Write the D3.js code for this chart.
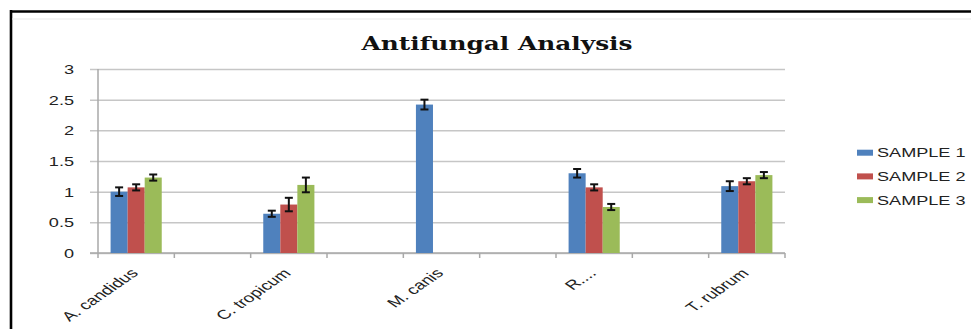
<!DOCTYPE html>
<html>
<head>
<meta charset="utf-8">
<script src="https://cdn.jsdelivr.net/npm/d3@7"></script>
<style>
  html, body { margin: 0; padding: 0; background: #fff; }
  svg { display: block; }
</style>
</head>
<body>
<svg id="chart" width="971" height="329"></svg>
<script>
// ---- data ----
const categories = ["A. candidus", "", "C. tropicum", "", "M. canis", "", "R....", "", "T. rubrum"];
const seriesNames = ["SAMPLE 1", "SAMPLE 2", "SAMPLE 3"];
const sample1 = [1.00, null, 0.64, null, 2.42, null, 1.30, null, 1.09];
const sample2 = [1.07, null, 0.79, null, 0,    null, 1.07, null, 1.17];
const sample3 = [1.23, null, 1.11, null, 0,    null, 0.75, null, 1.27];
const err1 = [0.07, null, 0.05, null, 0.08, null, 0.07, null, 0.08];
const err2 = [0.05, null, 0.11, null, null, null, 0.05, null, 0.05];
const err3 = [0.05, null, 0.12, null, null, null, 0.05, null, 0.05];
const yTicks = [0, 0.5, 1, 1.5, 2, 2.5, 3];
const titleText = "Antifungal Analysis";
const colors = ["#4F81BD", "#C0504D", "#9BBB59"];

const values = [sample1, sample2, sample3];
const errors = [err1, err2, err3];

// ---- layout ----
const svg = d3.select("#chart");
const SX = 1.45; // horizontal stretch of the reference text
const plot = { left: 98, right: 785, top: 69, bottom: 253 };

// frame
svg.append("line").attr("x1", 10).attr("x2", 971).attr("y1", 11.5).attr("y2", 11.5)
  .attr("stroke", "#000").attr("stroke-width", 2.6);
svg.append("line").attr("x1", 11).attr("x2", 11).attr("y1", 10).attr("y2", 329)
  .attr("stroke", "#000").attr("stroke-width", 2.6);
svg.append("line").attr("x1", 12.5).attr("x2", 971).attr("y1", 19).attr("y2", 19)
  .attr("stroke", "#efefef").attr("stroke-width", 1.5);

// title
svg.append("text")
  .attr("x", 497).attr("y", 50)
  .attr("text-anchor", "middle")
  .attr("font-family", "'DejaVu Serif', 'Liberation Serif', serif")
  .attr("font-weight", "bold")
  .attr("font-size", 18.5)
  .attr("textLength", 271)
  .attr("lengthAdjust", "spacingAndGlyphs")
  .attr("fill", "#111")
  .text(titleText);

const x0 = d3.scaleBand().domain(d3.range(categories.length))
  .range([plot.left, plot.right]).paddingInner(0).paddingOuter(0);
const bw = x0.bandwidth();
const x1 = d3.scaleBand().domain(d3.range(seriesNames.length))
  .range([bw * 0.165, bw * 0.835]).padding(0);
const y = d3.scaleLinear().domain([0, 3]).range([plot.bottom, plot.top]);

// gridlines + y axis ticks
const yAxis = d3.axisLeft(y).tickValues(yTicks)
  .tickSize(-(plot.right - plot.left))
  .tickSizeOuter(0)
  .tickFormat(d3.format("~g"))
  .tickPadding(0);
const gy = svg.append("g").attr("transform", `translate(${plot.left},0)`).call(yAxis);
gy.select(".domain").remove();
gy.selectAll(".tick line")
  .attr("x1", -8)
  .attr("stroke", "#c6c6c6").attr("stroke-width", 1.5);
gy.selectAll(".tick text")
  .attr("x", null).attr("dy", null)
  .attr("text-anchor", "end")
  .attr("dominant-baseline", "central")
  .attr("font-family", "'Liberation Sans', Arial, sans-serif")
  .attr("font-size", 12.5)
  .attr("fill", "#222")
  .attr("transform", `translate(${74 - plot.left},0) scale(${SX},1)`);

// y axis line
svg.append("line").attr("x1", plot.left).attr("x2", plot.left)
  .attr("y1", plot.top).attr("y2", plot.bottom)
  .attr("stroke", "#a8a8a8").attr("stroke-width", 1.5);

// x axis
svg.append("line").attr("x1", plot.left - 8).attr("x2", plot.right)
  .attr("y1", plot.bottom).attr("y2", plot.bottom)
  .attr("stroke", "#a8a8a8").attr("stroke-width", 1.5);
const boundaries = d3.range(categories.length + 1);
svg.append("g").selectAll("line").data(boundaries).join("line")
  .attr("x1", d => d < categories.length ? x0(d) : plot.right)
  .attr("x2", d => d < categories.length ? x0(d) : plot.right)
  .attr("y1", plot.bottom).attr("y2", plot.bottom + 5)
  .attr("stroke", "#a8a8a8").attr("stroke-width", 1.5);

// x labels
svg.append("g").selectAll("text").data(categories.map((c, i) => ({ c, i })).filter(d => d.c))
  .join("text")
  .attr("text-anchor", "end")
  .attr("font-family", "'Liberation Sans', Arial, sans-serif")
  .attr("font-size", 13)
  .attr("fill", "#222")
  .attr("transform", d => `translate(${x0(d.i) + bw / 2 + 3},${plot.bottom + 21}) scale(${SX},1) rotate(-45)`)
  .text(d => d.c);

// bars
const barData = [];
values.forEach((arr, s) => arr.forEach((v, i) => {
  if (v !== null) barData.push({ s, i, v, e: errors[s][i] });
}));
svg.append("g").selectAll("rect").data(barData).join("rect")
  .attr("x", d => x0(d.i) + x1(d.s))
  .attr("width", x1.bandwidth())
  .attr("y", d => y(d.v))
  .attr("height", d => plot.bottom - y(d.v))
  .attr("fill", d => colors[d.s]);

// error bars
const eb = svg.append("g").selectAll("g").data(barData.filter(d => d.e !== null && d.e !== undefined && d.v > 0))
  .join("g")
  .attr("stroke", "#111").attr("stroke-width", 2);
eb.append("line")
  .attr("x1", d => x0(d.i) + x1(d.s) + x1.bandwidth() / 2)
  .attr("x2", d => x0(d.i) + x1(d.s) + x1.bandwidth() / 2)
  .attr("y1", d => y(d.v + d.e)).attr("y2", d => y(d.v - d.e));
[1, -1].forEach(sign => {
  eb.append("line")
    .attr("x1", d => x0(d.i) + x1(d.s) + x1.bandwidth() / 2 - 4)
    .attr("x2", d => x0(d.i) + x1(d.s) + x1.bandwidth() / 2 + 4)
    .attr("y1", d => y(d.v + sign * d.e)).attr("y2", d => y(d.v + sign * d.e));
});

// legend
const lg = svg.append("g").selectAll("g").data(seriesNames).join("g")
  .attr("transform", (d, i) => `translate(857,${152.7 + i * 23.7})`);
lg.append("rect").attr("x", 0).attr("y", -3).attr("width", 16).attr("height", 6)
  .attr("fill", (d, i) => colors[i]);
lg.append("text")
  .attr("dominant-baseline", "central")
  .attr("font-family", "'Liberation Sans', Arial, sans-serif")
  .attr("font-size", 12.5)
  .attr("fill", "#222")
  .attr("transform", `translate(20,0) scale(${SX},1)`)
  .text(d => d);
</script>
</body>
</html>
